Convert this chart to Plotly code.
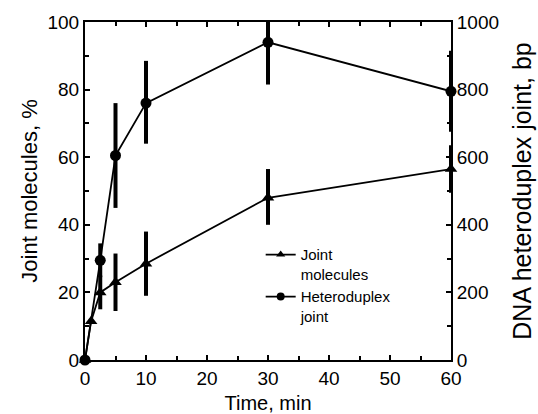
import plotly.graph_objects as go

# Time points (min)
time_jm = [0, 1, 2.5, 5, 10, 30, 60]
joint_molecules = [0, 11.5, 20, 23, 28.5, 48, 56.5]          # %
jm_err_plus = [0, 0, 5, 8.5, 9.5, 8.5, 7]
jm_err_minus = [0, 0, 5, 8.5, 9.5, 8, 7]

time_hd = [0, 2.5, 5, 10, 30, 60]
heteroduplex_bp = [0, 295, 605, 760, 940, 795]               # bp
hd_err_plus = [0, 50, 155, 125, 60, 120]
hd_err_minus = [0, 50, 155, 120, 125, 120]

legend_names = ["Joint<br>molecules", "Heteroduplex<br>joint"]

FONT = "Liberation Sans, Arial, sans-serif"
fig = go.Figure()

# error bars (no legend)
fig.add_trace(go.Scatter(
    x=time_jm, y=joint_molecules, mode="markers", showlegend=False,
    marker=dict(size=1, color="rgba(0,0,0,0)"),
    error_y=dict(type="data", array=jm_err_plus, arrayminus=jm_err_minus,
                 symmetric=False, color="black", thickness=4, width=0),
    cliponaxis=False, hoverinfo="skip"))
fig.add_trace(go.Scatter(
    x=time_hd, y=heteroduplex_bp, yaxis="y2", mode="markers", showlegend=False,
    marker=dict(size=1, color="rgba(0,0,0,0)"),
    error_y=dict(type="data", array=hd_err_plus, arrayminus=hd_err_minus,
                 symmetric=False, color="black", thickness=4, width=0),
    cliponaxis=False, hoverinfo="skip"))

fig.add_trace(go.Scatter(
    x=time_jm, y=joint_molecules, mode="lines+markers", showlegend=False,
    line=dict(color="black", width=1.8),
    marker=dict(symbol="triangle-up", size=11, color="black"),
    cliponaxis=False))
fig.add_trace(go.Scatter(
    x=time_hd, y=heteroduplex_bp, yaxis="y2", mode="lines+markers", showlegend=False,
    line=dict(color="black", width=1.8),
    marker=dict(symbol="circle", size=11, color="black"),
    cliponaxis=False))

# legend entries (smaller symbols, as in the original key)
fig.add_trace(go.Scatter(
    x=[None], y=[None], mode="lines+markers", name=legend_names[0],
    line=dict(color="black", width=1.8),
    marker=dict(symbol="triangle-up", size=8, color="black")))
fig.add_trace(go.Scatter(
    x=[None], y=[None], mode="lines+markers", name=legend_names[1],
    line=dict(color="black", width=1.8),
    marker=dict(symbol="circle", size=8, color="black")))

axis_common = dict(showline=True, linecolor="black", linewidth=2,
                   ticks="inside", tickcolor="black", tickwidth=1.5, ticklen=5,
                   showgrid=False, zeroline=False,
                   tickfont=dict(family=FONT, size=19, color="black"))

fig.update_layout(
    width=538, height=414,
    margin=dict(l=85, r=87, t=20, b=54),
    paper_bgcolor="white", plot_bgcolor="white",
    font=dict(family=FONT, color="black"),
    xaxis=dict(range=[0, 60], tickvals=[0, 10, 20, 30, 40, 50, 60],
               mirror="ticks", automargin=False,
               minor=dict(dtick=5, ticks="inside", ticklen=4, tickcolor="black"),
               title=dict(text="Time, min", font=dict(family=FONT, size=20)),
               **axis_common),
    yaxis=dict(range=[0, 100], dtick=20, automargin=True,
               minor=dict(dtick=10, ticks="inside", ticklen=4, tickcolor="black"),
               title=dict(text="Joint molecules, %", font=dict(family=FONT, size=22), standoff=4),
               **axis_common),
    yaxis2=dict(range=[0, 1000], dtick=200, overlaying="y", side="right",
                automargin=False,
                minor=dict(dtick=100, ticks="inside", ticklen=4, tickcolor="black"),
                title=dict(text="DNA heteroduplex joint, bp", font=dict(family=FONT, size=25)),
                **axis_common),
    legend=dict(x=0.48, y=0.36, xanchor="left", yanchor="top",
                bgcolor="rgba(0,0,0,0)", valign="top",
                font=dict(family=FONT, size=15, color="black"),
                itemwidth=30, tracegroupgap=6),
)

fig.write_html("out.html")
